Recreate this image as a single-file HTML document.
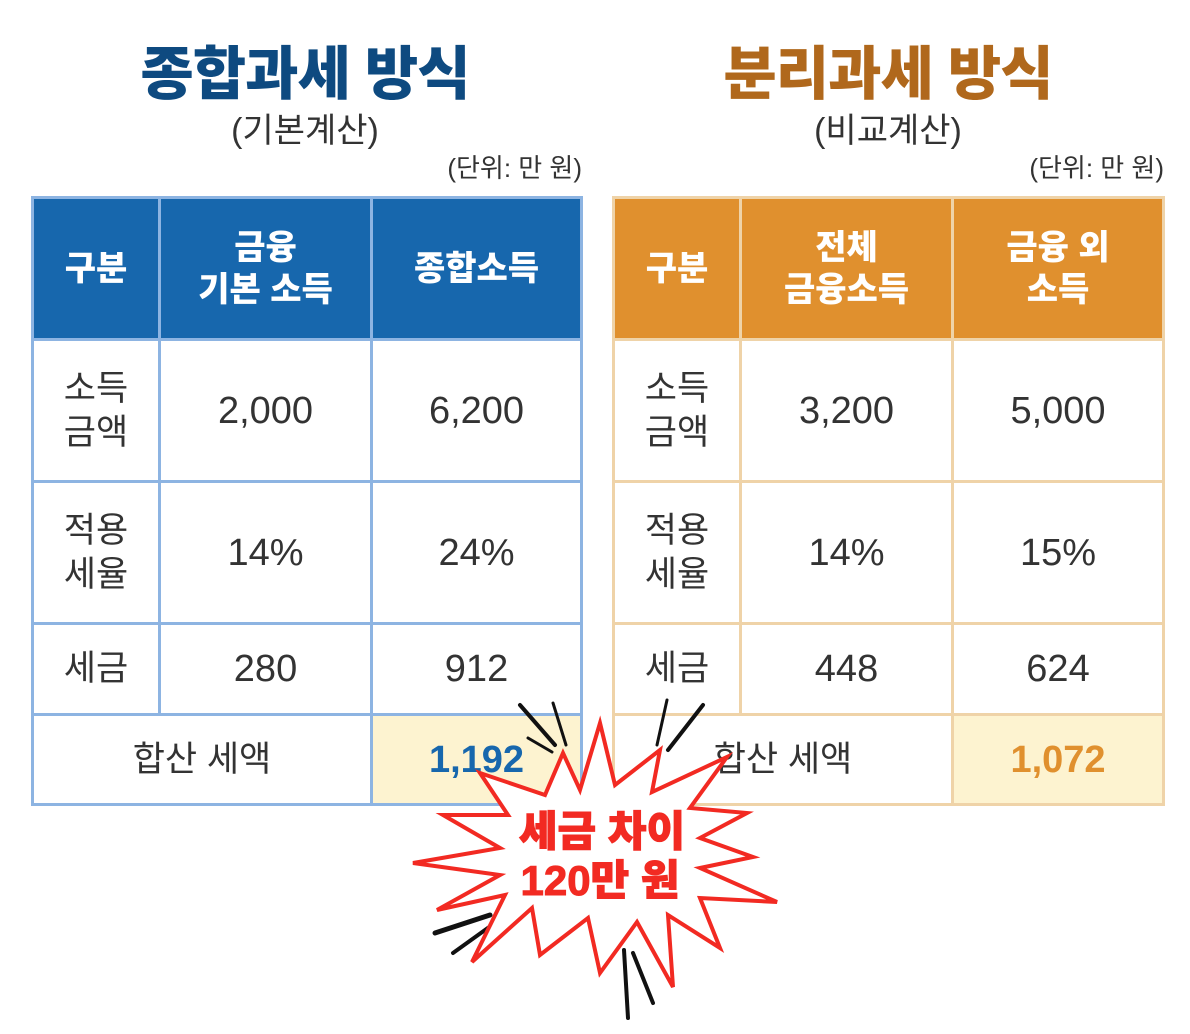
<!DOCTYPE html>
<html><head><meta charset="utf-8"><style>
body{margin:0;width:1190px;height:1034px;background:#fff;position:relative;overflow:hidden;font-family:"Liberation Sans","Noto Sans CJK KR",sans-serif;}
.abs{position:absolute;}
.title{font-weight:900;font-size:58px;letter-spacing:-1px;text-align:center;width:560px;top:40px;line-height:70px;}
.sub{font-size:34px;color:#333;text-align:center;width:560px;top:108px;line-height:46px;}
.unit{font-size:26px;color:#333;top:150px;line-height:36px;}
table{position:absolute;border-collapse:collapse;table-layout:fixed;}
td{text-align:center;vertical-align:middle;color:#333;font-size:38px;line-height:44px;padding:0;}
.h td{color:#fff;font-weight:900;font-size:34px;line-height:42px;}
.lab{font-size:35px;line-height:44px;}
.L td{border:3px solid #8db4e2;}
.R td{border:3px solid #efd3a8;}
.L .h td{background:#1767ad;}
.R .h td{background:#e0902e;}
</style></head><body>
<div class="abs title" style="left:25px;color:#0e4a80">종합과세 방식</div>
<div class="abs sub" style="left:25px">(기본계산)</div>
<div class="abs unit" style="left:436px;width:146px;text-align:right">(단위: 만 원)</div>
<div class="abs title" style="left:608px;color:#b0681c">분리과세 방식</div>
<div class="abs sub" style="left:608px">(비교계산)</div>
<div class="abs unit" style="left:1018px;width:146px;text-align:right">(단위: 만 원)</div>

<table class="L" style="left:31px;top:196px;width:549px;">
<colgroup><col style="width:127px"><col style="width:212px"><col style="width:210px"></colgroup>
<tr class="h" style="height:142px"><td>구분</td><td>금융<br>기본 소득</td><td>종합소득</td></tr>
<tr style="height:142px"><td class="lab">소득<br>금액</td><td>2,000</td><td>6,200</td></tr>
<tr style="height:142px"><td class="lab">적용<br>세율</td><td>14%</td><td>24%</td></tr>
<tr style="height:91px"><td class="lab">세금</td><td>280</td><td>912</td></tr>
<tr style="height:90px"><td class="lab" colspan="2">합산 세액</td><td style="background:#fdf3d0;color:#1767ad;font-weight:900">1,192</td></tr>
</table>

<table class="R" style="left:612px;top:196px;width:550px;">
<colgroup><col style="width:127px"><col style="width:212px"><col style="width:211px"></colgroup>
<tr class="h" style="height:142px"><td>구분</td><td>전체<br>금융소득</td><td>금융 외<br>소득</td></tr>
<tr style="height:142px"><td class="lab">소득<br>금액</td><td>3,200</td><td>5,000</td></tr>
<tr style="height:142px"><td class="lab">적용<br>세율</td><td>14%</td><td>15%</td></tr>
<tr style="height:91px"><td class="lab">세금</td><td>448</td><td>624</td></tr>
<tr style="height:90px"><td class="lab" colspan="2">합산 세액</td><td style="background:#fdf3d0;color:#e0902e;font-weight:900">1,072</td></tr>
</table>

<svg class="abs" style="left:0;top:0" width="1190" height="1034">
<g stroke="#111" stroke-linecap="round">
<line x1="520" y1="705" x2="555" y2="745" stroke-width="4"/>
<line x1="553" y1="703" x2="566" y2="745" stroke-width="3"/>
<line x1="528" y1="738" x2="552" y2="752" stroke-width="3"/>
<line x1="667" y1="700" x2="657" y2="745" stroke-width="3"/>
<line x1="703" y1="705" x2="668" y2="750" stroke-width="4"/>
<line x1="435" y1="933" x2="490" y2="915" stroke-width="5"/>
<line x1="453" y1="953" x2="492" y2="925" stroke-width="4"/>
<line x1="628" y1="1018" x2="624" y2="950" stroke-width="4"/>
<line x1="653" y1="1003" x2="633" y2="953" stroke-width="4"/>
</g>
<polygon fill="#fff" stroke="#f22a22" stroke-width="4" stroke-linejoin="miter"
points="600,723 615,785 660,750 652,792 727,757 690,808 747,813 700,838 753,857 700,868 777,902 700,898 720,948 668,915 673,987 637,922 600,973 588,918 540,955 532,908 472,962 505,895 437,910 500,875 413,863 500,848 443,815 508,815 480,773 545,795 563,753 580,790"/>
<text x="602" y="846" text-anchor="middle" fill="#f22a22" font-size="42" font-weight="900" stroke="#f22a22" stroke-width="1" font-family="Liberation Sans, Noto Sans CJK KR, sans-serif">세금 차이</text>
<text x="600" y="895" text-anchor="middle" fill="#f22a22" font-size="42" font-weight="900" stroke="#f22a22" stroke-width="1" font-family="Liberation Sans, Noto Sans CJK KR, sans-serif">120만 원</text>
</svg>
</body></html>
